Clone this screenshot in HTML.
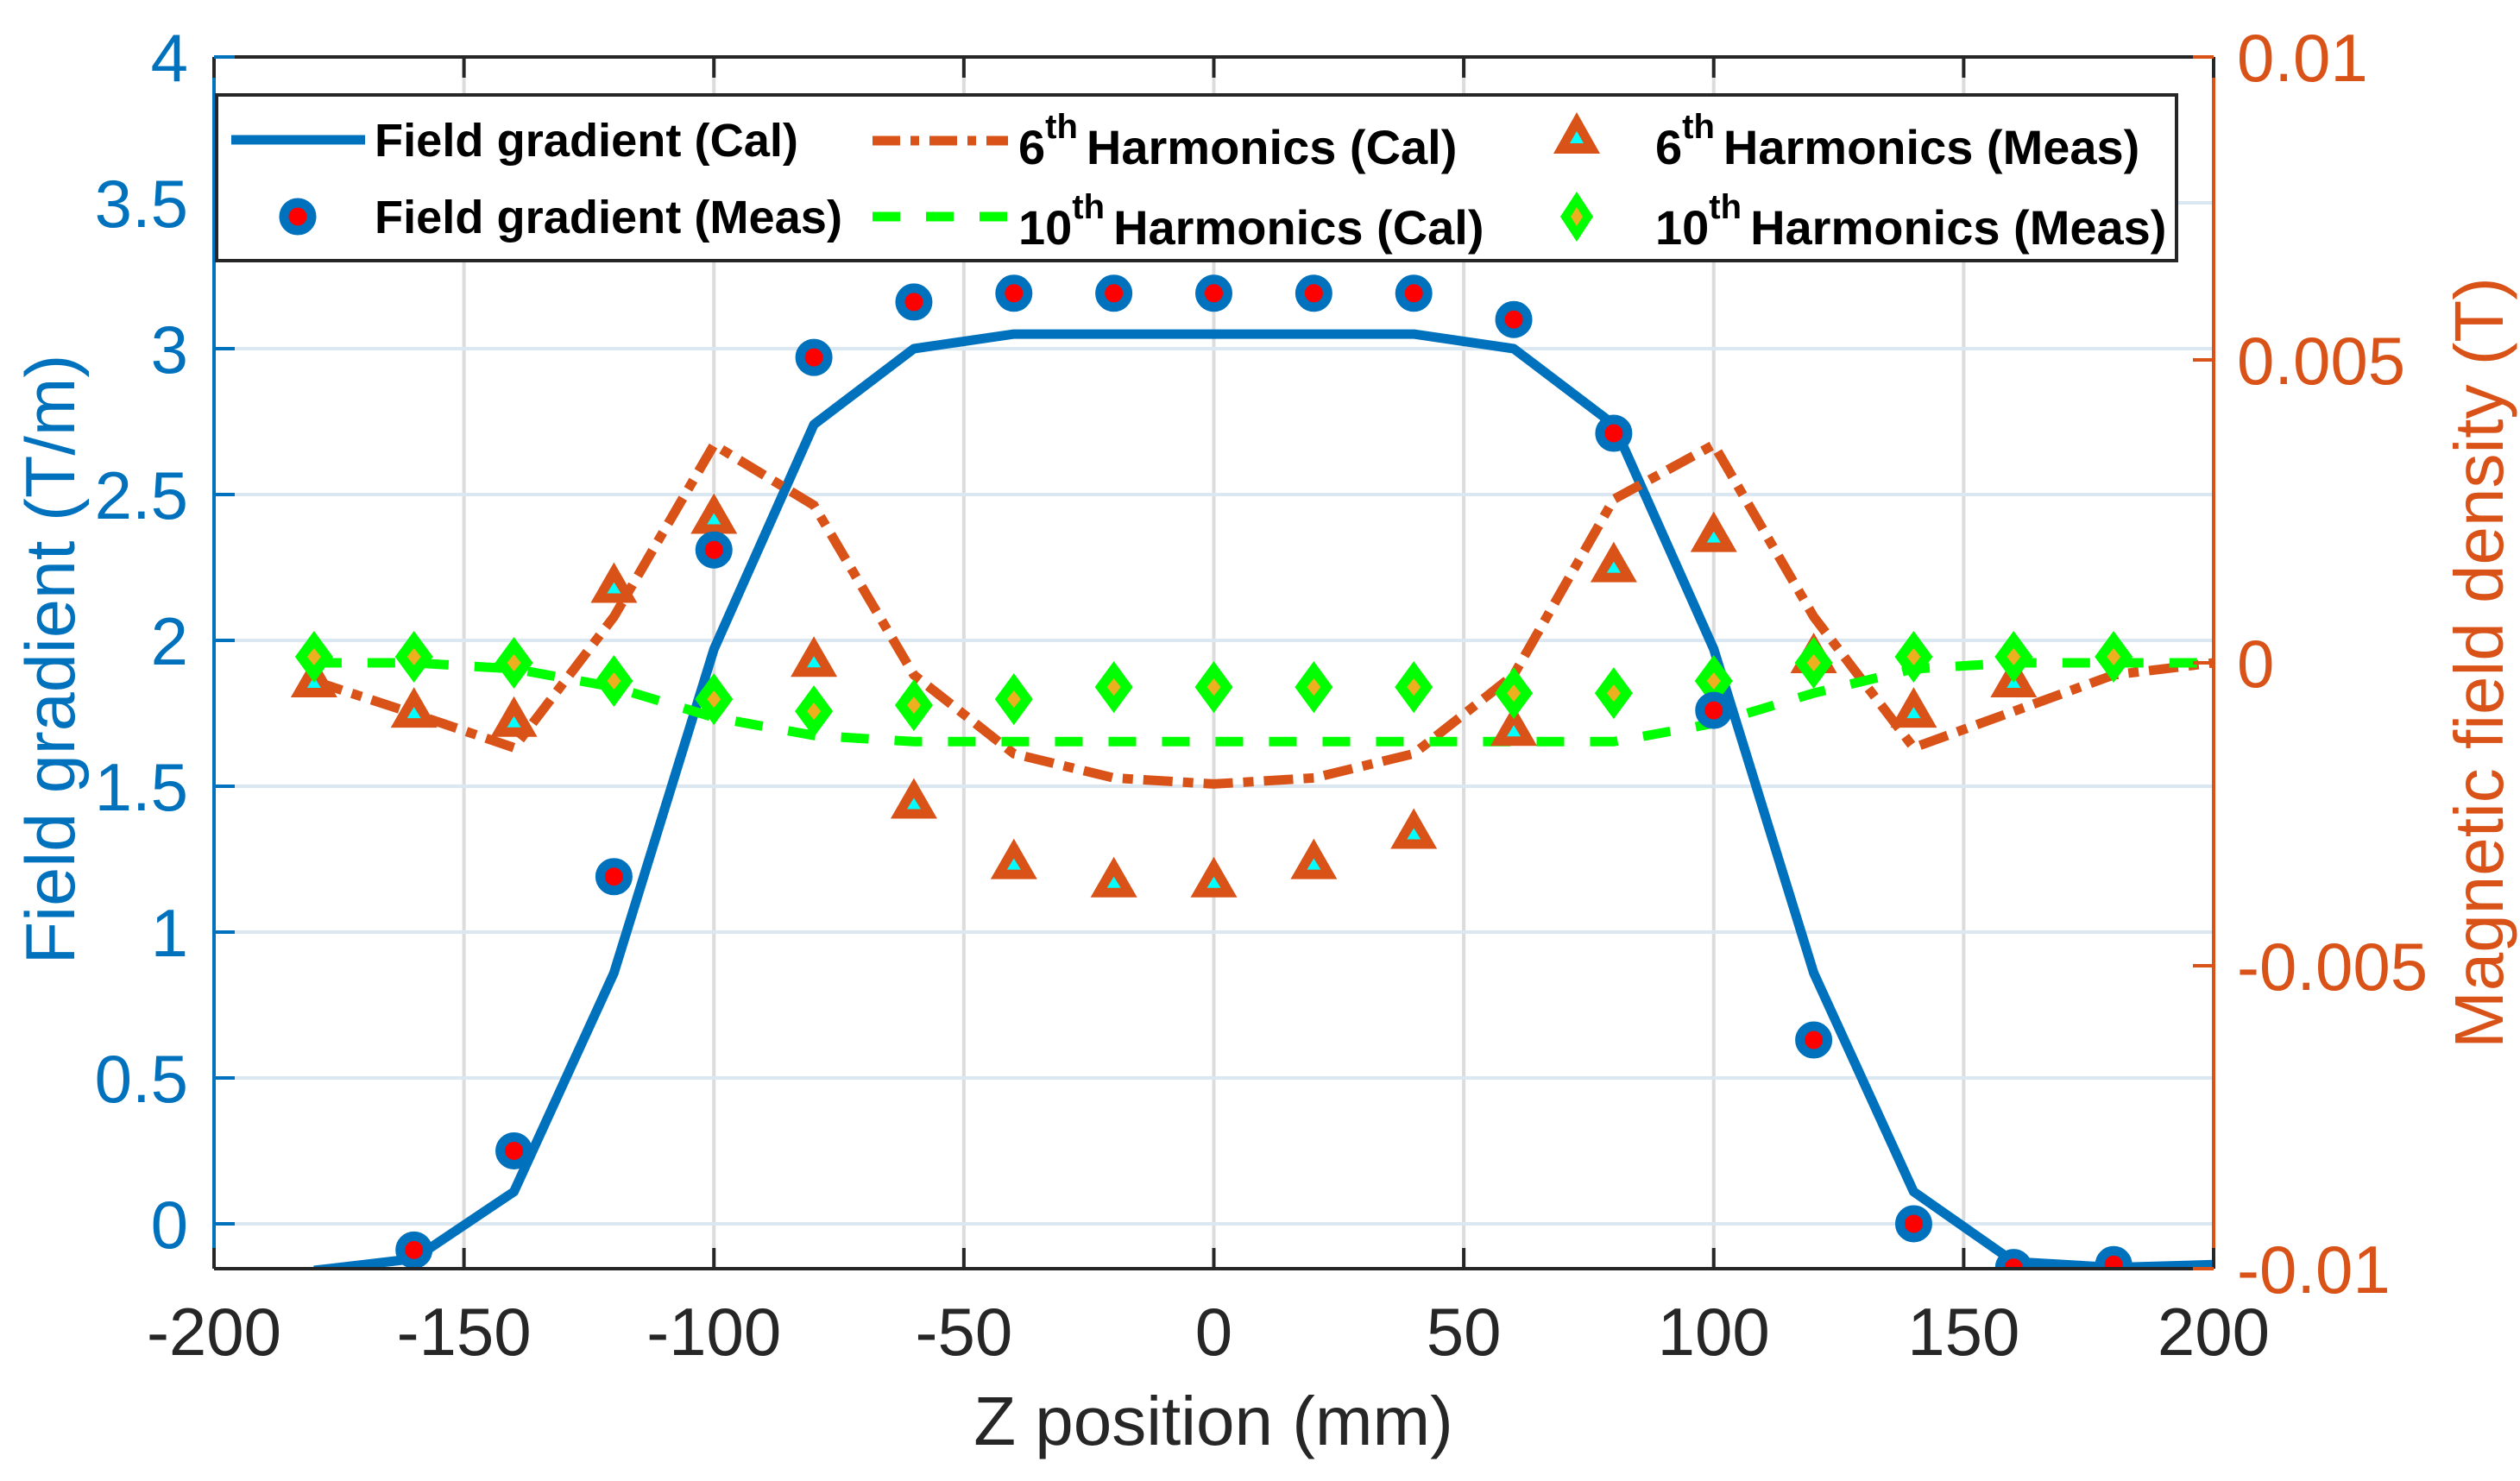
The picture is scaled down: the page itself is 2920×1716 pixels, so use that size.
<!DOCTYPE html>
<html><head><meta charset="utf-8"><style>
html,body{margin:0;padding:0;background:#fff}
svg{display:block;font-family:"Liberation Sans",Arial,sans-serif}
</style></head><body>
<svg id="chart" xmlns="http://www.w3.org/2000/svg" width="2920" height="1716" viewBox="0 0 2920 1716">
<rect width="2920" height="1716" fill="#fff"/>
<g id="grid"></g>
<g id="series"></g>
<g id="axes"></g>
<text x="1406" y="1674" font-size="80" fill="#262626" text-anchor="middle">Z position (mm)</text>
<text transform="translate(86,764) rotate(-90)" font-size="81" fill="#0072BD" text-anchor="middle">Field gradient (T/m)</text>
<text transform="translate(2900,768) rotate(-90)" font-size="80" fill="#D95319" text-anchor="middle">Magnetic field density (T)</text>
<g id="legend">
<rect x="251" y="110" width="2271" height="192" fill="#fff" stroke="#262626" stroke-width="4"/>
<line x1="268" y1="162" x2="423" y2="162" stroke="#0072BD" stroke-width="11"/>
<text x="434" y="181" font-size="54" font-weight="bold" textLength="491" lengthAdjust="spacingAndGlyphs">Field gradient (Cal)</text>
<circle cx="345" cy="251" r="16" fill="#ff0000" stroke="#0072BD" stroke-width="11"/>
<text x="434" y="270" font-size="54" font-weight="bold" textLength="542" lengthAdjust="spacingAndGlyphs">Field gradient (Meas)</text>
<line x1="1011" y1="163" x2="1168" y2="163" stroke="#D95319" stroke-width="11" stroke-dasharray="32,12,10,12"/>
<text x="1180" y="190" font-size="56" font-weight="bold">6<tspan font-size="40" dy="-30">th</tspan><tspan dy="30" dx="10">Harmonics (Cal)</tspan></text>
<line x1="1011" y1="251" x2="1168" y2="251" stroke="#00FF00" stroke-width="11" stroke-dasharray="32,30"/>
<text x="1180" y="283" font-size="56" font-weight="bold">10<tspan font-size="40" dy="-30">th</tspan><tspan dy="30" dx="10">Harmonics (Cal)</tspan></text>
<polygon points="1827,130 1854,178 1800,178" fill="#D95319"/>
<polygon points="1827,152 1835,166 1819,166" fill="#00FFFF"/>
<text x="1918" y="190" font-size="56" font-weight="bold">6<tspan font-size="40" dy="-30">th</tspan><tspan dy="30" dx="10">Harmonics (Meas)</tspan></text>
<polygon points="1827,222 1846,251 1827,280 1808,251" fill="#00FF00"/>
<polygon points="1827,240 1834,251 1827,262 1820,251" fill="#EDB120"/>
<text x="1918" y="283" font-size="56" font-weight="bold">10<tspan font-size="40" dy="-30">th</tspan><tspan dy="30" dx="10">Harmonics (Meas)</tspan></text>
</g>
</svg>
<script>
const xPos = [-180,-160,-140,-120,-100,-80,-60,-40,-20,0,20,40,60,80,100,120,140,160,180,200];
const gradCal = [-0.16,-0.12,0.11,0.86,1.97,2.74,3.0,3.05,3.05,3.05,3.05,3.05,3.0,2.74,1.97,0.86,0.11,-0.13,-0.15,-0.14];
const h6Cal = [-0.0003,-0.00084,-0.0014,0.00076,0.0036,0.0026,-0.0002,-0.0015,-0.0019,-0.002,-0.0019,-0.0015,-0.0002,0.0027,0.0036,0.00076,-0.0014,-0.0008,-0.0002,0.0];
const h10Cal = [0,0,-0.0001,-0.0004,-0.0009,-0.0012,-0.0013,-0.0013,-0.0013,-0.0013,-0.0013,-0.0013,-0.0013,-0.0013,-0.001,-0.0005,-0.0001,0,0,0];
const xMeas = [-180,-160,-140,-120,-100,-80,-60,-40,-20,0,20,40,60,80,100,120,140,160,180];
const gradMeas = [null,-0.09,0.25,1.19,2.31,2.97,3.16,3.19,3.19,3.19,3.19,3.19,3.10,2.71,1.76,0.63,0.0,-0.15,-0.14];
const h6Meas = [-0.0003,-0.0008,-0.00095,0.00126,0.0024,0.00004,-0.0023,-0.0033,-0.0036,-0.0036,-0.0033,-0.0028,-0.0011,0.0016,0.0021,0.0001,-0.0008,-0.0003,null];
const h10Meas = [0.0001,0.0001,0,-0.0003,-0.0006,-0.0008,-0.0007,-0.0006,-0.0004,-0.0004,-0.0004,-0.0004,-0.0005,-0.0005,-0.0003,0,0.0001,0.0001,0.0001];
const xTicks = [-200,-150,-100,-50,0,50,100,150,200];
const yLeftTicks = [0,0.5,1,1.5,2,2.5,3,3.5,4];
const yLeftLabels = ['0','0.5','1','1.5','2','2.5','3','3.5','4'];
const yRightTicks = [-0.01,-0.005,0,0.005,0.01];
const yRightLabels = ['-0.01','-0.005','0','0.005','0.01'];

const L=248,R=2565,T=66,B=1470;
const xMin=-200,xMax=200,yLMin=-0.154,yLMax=4,yRMin=-0.01,yRMax=0.01;
const sx=v=>L+(v-xMin)/(xMax-xMin)*(R-L);
const syL=v=>B-(v-yLMin)/(yLMax-yLMin)*(B-T);
const syR=v=>B-(v-yRMin)/(yRMax-yRMin)*(B-T);
const NS='http://www.w3.org/2000/svg';
function mk(tag,attrs,parent){const e=document.createElementNS(NS,tag);for(const k in attrs)e.setAttribute(k,attrs[k]);parent.appendChild(e);return e;}
const grid=document.getElementById('grid'),ser=document.getElementById('series'),ax=document.getElementById('axes');

xTicks.forEach(t=>{if(t===xMin||t===xMax)return;
 const g=mk('line',{x1:sx(t),x2:sx(t),y1:T,y2:B,stroke:'#dcdcdc','stroke-width':4},grid);
 
 });
yLeftTicks.forEach(t=>{if(t===yLMax)return;
 const g=mk('line',{x1:L,x2:R,y1:syL(t),y2:syL(t),stroke:'#dbe8f2','stroke-width':4},grid);
 
 });

function path(xs,ys,sy,attrs,name){let d='';xs.forEach((x,i)=>{if(ys[i]==null)return;d+=(d?'L':'M')+sx(x).toFixed(1)+','+sy(ys[i]).toFixed(1);});
 const p=mk('path',Object.assign({d:d,fill:'none'},attrs),ser);
 
 }
const clip=mk('clipPath',{id:'pc'},ser);mk('rect',{x:L,y:T,width:R-L,height:B-T},clip);
path(xPos,gradCal,syL,{stroke:'#0072BD','stroke-width':11,'stroke-linejoin':'round','clip-path':'url(#pc)'},'field-gradient-cal-line');
path(xPos,h6Cal,syR,{stroke:'#D95319','stroke-width':11,'stroke-dasharray':'34,12,12,12'},'harmonic-6th-cal-line');
path(xPos,h10Cal,syR,{stroke:'#00FF00','stroke-width':11,'stroke-dasharray':'32,30'},'harmonic-10th-cal-line');

xMeas.forEach((x,i)=>{
 if(h6Meas[i]!=null){const cx=sx(x),cy=syR(h6Meas[i]);
  const m=mk('polygon',{points:`${cx},${cy-28} ${cx+27},${cy+19} ${cx-27},${cy+19}`,fill:'#D95319'},ser);
  
  
  mk('polygon',{points:`${cx},${cy-5} ${cx+8},${cy+8} ${cx-8},${cy+8}`,fill:'#00FFFF'},ser);}
 if(h10Meas[i]!=null){const cx=sx(x),cy=syR(h10Meas[i]);
  const m=mk('polygon',{points:`${cx},${cy-30} ${cx+22},${cy} ${cx},${cy+30} ${cx-22},${cy}`,fill:'#00FF00'},ser);
  
  
  mk('polygon',{points:`${cx},${cy-10} ${cx+8},${cy} ${cx},${cy+10} ${cx-8},${cy}`,fill:'#EDB120'},ser);}
 if(gradMeas[i]!=null){const cx=sx(x),cy=syL(gradMeas[i]);
  const m=mk('circle',{cx:cx,cy:cy,r:16,fill:'#ff0000',stroke:'#0072BD','stroke-width':11,'clip-path':'url(#pc)'},ser);
  
  }
});

mk('line',{x1:L,x2:R,y1:T,y2:T,stroke:'#262626','stroke-width':4},ax);
mk('line',{x1:L,x2:R,y1:B,y2:B,stroke:'#262626','stroke-width':4},ax);
mk('line',{x1:L,x2:L,y1:T,y2:B,stroke:'#0072BD','stroke-width':4},ax);
mk('line',{x1:R,x2:R,y1:T,y2:B,stroke:'#D95319','stroke-width':4},ax);
xTicks.forEach(t=>{const x=sx(t);
 mk('line',{x1:x,x2:x,y1:B,y2:B-24,stroke:'#262626','stroke-width':4},ax);
 mk('line',{x1:x,x2:x,y1:T,y2:T+24,stroke:'#262626','stroke-width':4},ax);
 const tx=mk('text',{x:x,y:1570,'font-size':78,fill:'#262626','text-anchor':'middle'},ax);tx.textContent=String(t);
 
 });
yLeftTicks.forEach((t,i)=>{const y=syL(t);
 mk('line',{x1:L,x2:L+24,y1:y,y2:y,stroke:'#0072BD','stroke-width':4},ax);
 const tx=mk('text',{x:218,y:y+28,'font-size':78,fill:'#0072BD','text-anchor':'end'},ax);tx.textContent=yLeftLabels[i];
 
 });
yRightTicks.forEach((t,i)=>{const y=syR(t);
 mk('line',{x1:R,x2:R-24,y1:y,y2:y,stroke:'#D95319','stroke-width':4},ax);
 const tx=mk('text',{x:2592,y:y+28,'font-size':78,fill:'#D95319','text-anchor':'start'},ax);tx.textContent=yRightLabels[i];
 
 });
</script>
</body></html>
